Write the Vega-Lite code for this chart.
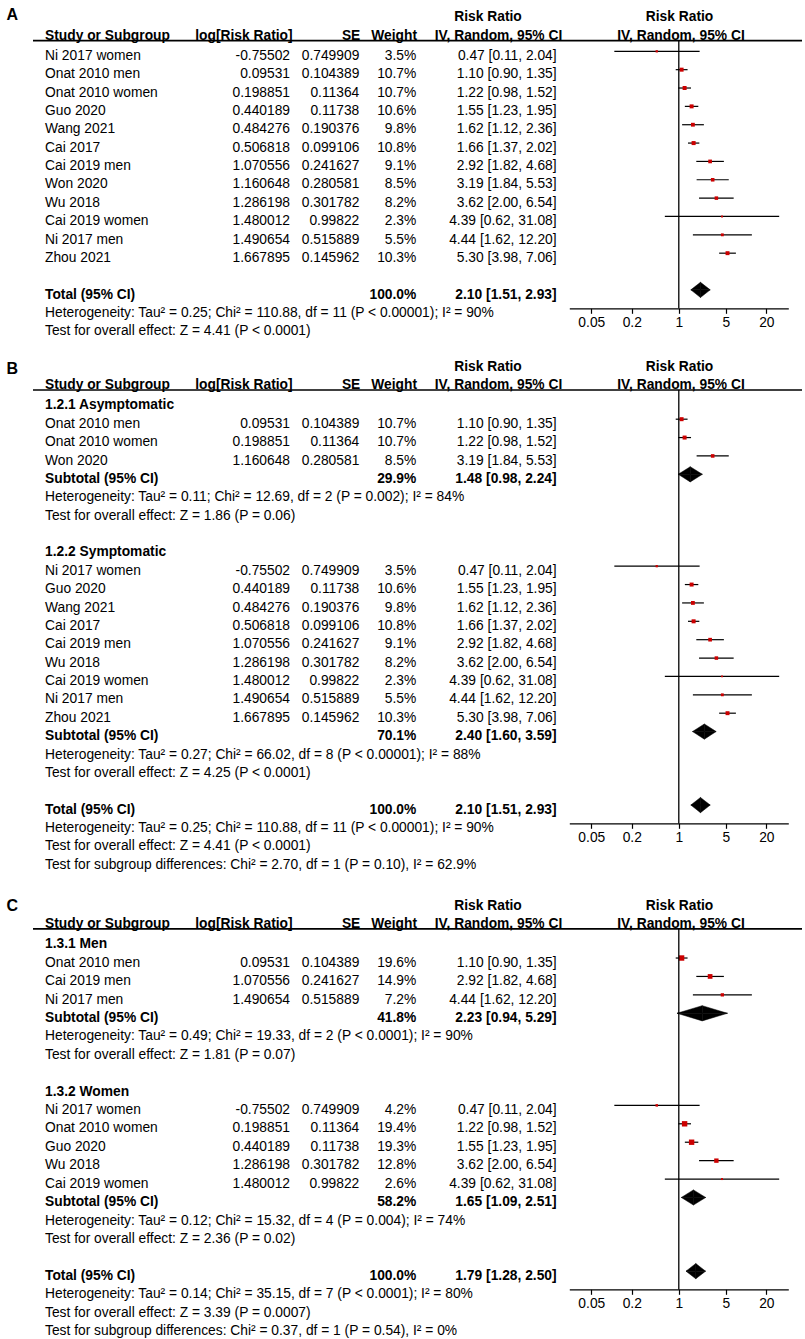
{
"$schema":"https://vega.github.io/schema/vega-lite/v6.json",
"width":805,"height":1339,"padding":0,"autosize":{"type":"none"},"background":"white",
"config":{
 "view":{"stroke":null},
 "text":{"baseline":"middle","font":"Liberation Sans","fontSize":13.8,"color":"black"},
 "axis":{"domainColor":"black","domainWidth":1.2,"tickColor":"black","tickWidth":1.2,"tickSize":5,"labelColor":"black","labelFont":"Liberation Sans","labelFontSize":13.8,"labelPadding":2,"grid":false,"labelFlush":false,"labelOverlap":false,"labelBound":false}
},
"datasets":{
"a":[
{"row":0,"kind":"study","label":"Ni 2017 women","logrr":-0.75502,"se":0.749909,"w":0.035,"rr":0.47,"lo":0.11,"hi":2.04,"ci":"0.47 [0.11, 2.04]"},
{"row":1,"kind":"study","label":"Onat 2010 men","logrr":0.09531,"se":0.104389,"w":0.107,"rr":1.1,"lo":0.9,"hi":1.35,"ci":"1.10 [0.90, 1.35]"},
{"row":2,"kind":"study","label":"Onat 2010 women","logrr":0.198851,"se":0.11364,"w":0.107,"rr":1.22,"lo":0.98,"hi":1.52,"ci":"1.22 [0.98, 1.52]"},
{"row":3,"kind":"study","label":"Guo 2020","logrr":0.440189,"se":0.11738,"w":0.106,"rr":1.55,"lo":1.23,"hi":1.95,"ci":"1.55 [1.23, 1.95]"},
{"row":4,"kind":"study","label":"Wang 2021","logrr":0.484276,"se":0.190376,"w":0.098,"rr":1.62,"lo":1.12,"hi":2.36,"ci":"1.62 [1.12, 2.36]"},
{"row":5,"kind":"study","label":"Cai 2017","logrr":0.506818,"se":0.099106,"w":0.108,"rr":1.66,"lo":1.37,"hi":2.02,"ci":"1.66 [1.37, 2.02]"},
{"row":6,"kind":"study","label":"Cai 2019 men","logrr":1.070556,"se":0.241627,"w":0.091,"rr":2.92,"lo":1.82,"hi":4.68,"ci":"2.92 [1.82, 4.68]"},
{"row":7,"kind":"study","label":"Won 2020","logrr":1.160648,"se":0.280581,"w":0.085,"rr":3.19,"lo":1.84,"hi":5.53,"ci":"3.19 [1.84, 5.53]"},
{"row":8,"kind":"study","label":"Wu 2018","logrr":1.286198,"se":0.301782,"w":0.082,"rr":3.62,"lo":2.0,"hi":6.54,"ci":"3.62 [2.00, 6.54]"},
{"row":9,"kind":"study","label":"Cai 2019 women","logrr":1.480012,"se":0.99822,"w":0.023,"rr":4.39,"lo":0.62,"hi":31.08,"ci":"4.39 [0.62, 31.08]"},
{"row":10,"kind":"study","label":"Ni 2017 men","logrr":1.490654,"se":0.515889,"w":0.055,"rr":4.44,"lo":1.62,"hi":12.2,"ci":"4.44 [1.62, 12.20]"},
{"row":11,"kind":"study","label":"Zhou 2021","logrr":1.667895,"se":0.145962,"w":0.103,"rr":5.3,"lo":3.98,"hi":7.06,"ci":"5.30 [3.98, 7.06]"},
{"row":13,"kind":"total","label":"Total (95% CI)","w":1,"rr":2.1,"lo":1.51,"hi":2.93,"ci":"2.10 [1.51, 2.93]"},
{"row":14,"kind":"note","label":"Heterogeneity: Tau² = 0.25; Chi² = 110.88, df = 11 (P < 0.00001); I² = 90%"},
{"row":15,"kind":"note","label":"Test for overall effect: Z = 4.41 (P < 0.0001)"}
],
"b":[
{"row":0,"kind":"group","label":"1.2.1 Asymptomatic"},
{"row":1,"kind":"study","label":"Onat 2010 men","logrr":0.09531,"se":0.104389,"w":0.107,"rr":1.1,"lo":0.9,"hi":1.35,"ci":"1.10 [0.90, 1.35]"},
{"row":2,"kind":"study","label":"Onat 2010 women","logrr":0.198851,"se":0.11364,"w":0.107,"rr":1.22,"lo":0.98,"hi":1.52,"ci":"1.22 [0.98, 1.52]"},
{"row":3,"kind":"study","label":"Won 2020","logrr":1.160648,"se":0.280581,"w":0.085,"rr":3.19,"lo":1.84,"hi":5.53,"ci":"3.19 [1.84, 5.53]"},
{"row":4,"kind":"subtotal","label":"Subtotal (95% CI)","w":0.299,"rr":1.48,"lo":0.98,"hi":2.24,"ci":"1.48 [0.98, 2.24]"},
{"row":5,"kind":"note","label":"Heterogeneity: Tau² = 0.11; Chi² = 12.69, df = 2 (P = 0.002); I² = 84%"},
{"row":6,"kind":"note","label":"Test for overall effect: Z = 1.86 (P = 0.06)"},
{"row":8,"kind":"group","label":"1.2.2 Symptomatic"},
{"row":9,"kind":"study","label":"Ni 2017 women","logrr":-0.75502,"se":0.749909,"w":0.035,"rr":0.47,"lo":0.11,"hi":2.04,"ci":"0.47 [0.11, 2.04]"},
{"row":10,"kind":"study","label":"Guo 2020","logrr":0.440189,"se":0.11738,"w":0.106,"rr":1.55,"lo":1.23,"hi":1.95,"ci":"1.55 [1.23, 1.95]"},
{"row":11,"kind":"study","label":"Wang 2021","logrr":0.484276,"se":0.190376,"w":0.098,"rr":1.62,"lo":1.12,"hi":2.36,"ci":"1.62 [1.12, 2.36]"},
{"row":12,"kind":"study","label":"Cai 2017","logrr":0.506818,"se":0.099106,"w":0.108,"rr":1.66,"lo":1.37,"hi":2.02,"ci":"1.66 [1.37, 2.02]"},
{"row":13,"kind":"study","label":"Cai 2019 men","logrr":1.070556,"se":0.241627,"w":0.091,"rr":2.92,"lo":1.82,"hi":4.68,"ci":"2.92 [1.82, 4.68]"},
{"row":14,"kind":"study","label":"Wu 2018","logrr":1.286198,"se":0.301782,"w":0.082,"rr":3.62,"lo":2.0,"hi":6.54,"ci":"3.62 [2.00, 6.54]"},
{"row":15,"kind":"study","label":"Cai 2019 women","logrr":1.480012,"se":0.99822,"w":0.023,"rr":4.39,"lo":0.62,"hi":31.08,"ci":"4.39 [0.62, 31.08]"},
{"row":16,"kind":"study","label":"Ni 2017 men","logrr":1.490654,"se":0.515889,"w":0.055,"rr":4.44,"lo":1.62,"hi":12.2,"ci":"4.44 [1.62, 12.20]"},
{"row":17,"kind":"study","label":"Zhou 2021","logrr":1.667895,"se":0.145962,"w":0.103,"rr":5.3,"lo":3.98,"hi":7.06,"ci":"5.30 [3.98, 7.06]"},
{"row":18,"kind":"subtotal","label":"Subtotal (95% CI)","w":0.701,"rr":2.4,"lo":1.6,"hi":3.59,"ci":"2.40 [1.60, 3.59]"},
{"row":19,"kind":"note","label":"Heterogeneity: Tau² = 0.27; Chi² = 66.02, df = 8 (P < 0.00001); I² = 88%"},
{"row":20,"kind":"note","label":"Test for overall effect: Z = 4.25 (P < 0.0001)"},
{"row":22,"kind":"total","label":"Total (95% CI)","w":1,"rr":2.1,"lo":1.51,"hi":2.93,"ci":"2.10 [1.51, 2.93]"},
{"row":23,"kind":"note","label":"Heterogeneity: Tau² = 0.25; Chi² = 110.88, df = 11 (P < 0.00001); I² = 90%"},
{"row":24,"kind":"note","label":"Test for overall effect: Z = 4.41 (P < 0.0001)"},
{"row":25,"kind":"note","label":"Test for subgroup differences: Chi² = 2.70, df = 1 (P = 0.10), I² = 62.9%"}
],
"c":[
{"row":0,"kind":"group","label":"1.3.1 Men"},
{"row":1,"kind":"study","label":"Onat 2010 men","logrr":0.09531,"se":0.104389,"w":0.196,"rr":1.1,"lo":0.9,"hi":1.35,"ci":"1.10 [0.90, 1.35]"},
{"row":2,"kind":"study","label":"Cai 2019 men","logrr":1.070556,"se":0.241627,"w":0.149,"rr":2.92,"lo":1.82,"hi":4.68,"ci":"2.92 [1.82, 4.68]"},
{"row":3,"kind":"study","label":"Ni 2017 men","logrr":1.490654,"se":0.515889,"w":0.072,"rr":4.44,"lo":1.62,"hi":12.2,"ci":"4.44 [1.62, 12.20]"},
{"row":4,"kind":"subtotal","label":"Subtotal (95% CI)","w":0.418,"rr":2.23,"lo":0.94,"hi":5.29,"ci":"2.23 [0.94, 5.29]"},
{"row":5,"kind":"note","label":"Heterogeneity: Tau² = 0.49; Chi² = 19.33, df = 2 (P < 0.0001); I² = 90%"},
{"row":6,"kind":"note","label":"Test for overall effect: Z = 1.81 (P = 0.07)"},
{"row":8,"kind":"group","label":"1.3.2 Women"},
{"row":9,"kind":"study","label":"Ni 2017 women","logrr":-0.75502,"se":0.749909,"w":0.042,"rr":0.47,"lo":0.11,"hi":2.04,"ci":"0.47 [0.11, 2.04]"},
{"row":10,"kind":"study","label":"Onat 2010 women","logrr":0.198851,"se":0.11364,"w":0.194,"rr":1.22,"lo":0.98,"hi":1.52,"ci":"1.22 [0.98, 1.52]"},
{"row":11,"kind":"study","label":"Guo 2020","logrr":0.440189,"se":0.11738,"w":0.193,"rr":1.55,"lo":1.23,"hi":1.95,"ci":"1.55 [1.23, 1.95]"},
{"row":12,"kind":"study","label":"Wu 2018","logrr":1.286198,"se":0.301782,"w":0.128,"rr":3.62,"lo":2.0,"hi":6.54,"ci":"3.62 [2.00, 6.54]"},
{"row":13,"kind":"study","label":"Cai 2019 women","logrr":1.480012,"se":0.99822,"w":0.026,"rr":4.39,"lo":0.62,"hi":31.08,"ci":"4.39 [0.62, 31.08]"},
{"row":14,"kind":"subtotal","label":"Subtotal (95% CI)","w":0.582,"rr":1.65,"lo":1.09,"hi":2.51,"ci":"1.65 [1.09, 2.51]"},
{"row":15,"kind":"note","label":"Heterogeneity: Tau² = 0.12; Chi² = 15.32, df = 4 (P = 0.004); I² = 74%"},
{"row":16,"kind":"note","label":"Test for overall effect: Z = 2.36 (P = 0.02)"},
{"row":18,"kind":"total","label":"Total (95% CI)","w":1,"rr":1.79,"lo":1.28,"hi":2.5,"ci":"1.79 [1.28, 2.50]"},
{"row":19,"kind":"note","label":"Heterogeneity: Tau² = 0.14; Chi² = 35.15, df = 7 (P < 0.0001); I² = 80%"},
{"row":20,"kind":"note","label":"Test for overall effect: Z = 3.39 (P = 0.0007)"},
{"row":21,"kind":"note","label":"Test for subgroup differences: Chi² = 0.37, df = 1 (P = 0.54), I² = 0%"}
]
},
"layer":[
{"data":{"name":"a"},
 "layer":[
  {"layer":[
   {"transform":[{"filter":{"field":"kind","oneOf":["study","note"]}}],"mark":{"type":"text","align":"left"},
    "encoding":{"x":{"datum":45,"type":"quantitative","scale":{"domain":[0,805],"nice":false,"zero":false},"axis":null},"y":{"field":"row","type":"quantitative","scale":{"domain":[-3.0518,69.918],"reverse":true,"nice":false,"zero":false},"axis":null},"text":{"field":"label","type":"nominal"}}},
   {"transform":[{"filter":{"field":"kind","oneOf":["group","subtotal","total"]}}],"mark":{"type":"text","align":"left","fontWeight":"bold"},
    "encoding":{"x":{"datum":45,"type":"quantitative","axis":null},"y":{"field":"row","type":"quantitative","axis":null},"text":{"field":"label","type":"nominal"}}},
   {"transform":[{"filter":{"field":"kind","equal":"study"}}],"mark":{"type":"text","align":"right"},
    "encoding":{"x":{"datum":290,"type":"quantitative","axis":null},"y":{"field":"row","type":"quantitative","axis":null},"text":{"field":"logrr","type":"nominal"}}},
   {"transform":[{"filter":{"field":"kind","equal":"study"}}],"mark":{"type":"text","align":"right"},
    "encoding":{"x":{"datum":359.3,"type":"quantitative","axis":null},"y":{"field":"row","type":"quantitative","axis":null},"text":{"field":"se","type":"nominal"}}},
   {"transform":[{"filter":{"field":"kind","equal":"study"}}],"mark":{"type":"text","align":"right"},
    "encoding":{"x":{"datum":416.3,"type":"quantitative","axis":null},"y":{"field":"row","type":"quantitative","axis":null},"text":{"field":"w","type":"quantitative","format":".1%"}}},
   {"transform":[{"filter":{"field":"kind","oneOf":["subtotal","total"]}}],"mark":{"type":"text","align":"right","fontWeight":"bold"},
    "encoding":{"x":{"datum":416.3,"type":"quantitative","axis":null},"y":{"field":"row","type":"quantitative","axis":null},"text":{"field":"w","type":"quantitative","format":".1%"}}},
   {"transform":[{"filter":{"field":"kind","equal":"study"}}],"mark":{"type":"text","align":"right"},
    "encoding":{"x":{"datum":556.6,"type":"quantitative","axis":null},"y":{"field":"row","type":"quantitative","axis":null},"text":{"field":"ci","type":"nominal"}}},
   {"transform":[{"filter":{"field":"kind","oneOf":["subtotal","total"]}}],"mark":{"type":"text","align":"right","fontWeight":"bold"},
    "encoding":{"x":{"datum":556.6,"type":"quantitative","axis":null},"y":{"field":"row","type":"quantitative","axis":null},"text":{"field":"ci","type":"nominal"}}},
   {"data":{"values":[{}]},"mark":{"type":"text","align":"left","fontWeight":"bold","fontSize":16},"encoding":{"x":{"datum":6.5,"type":"quantitative","axis":null},"y":{"datum":-2.21,"type":"quantitative","axis":null},"text":{"value":"A"}}},
   {"data":{"values":[{}]},"mark":{"type":"text","align":"center","fontWeight":"bold"},"encoding":{"x":{"datum":488,"type":"quantitative","axis":null},"y":{"datum":-2.1,"type":"quantitative","axis":null},"text":{"value":"Risk Ratio"}}},
   {"data":{"values":[{}]},"mark":{"type":"text","align":"center","fontWeight":"bold"},"encoding":{"x":{"datum":679.5,"type":"quantitative","axis":null},"y":{"datum":-2.1,"type":"quantitative","axis":null},"text":{"value":"Risk Ratio"}}},
   {"data":{"values":[{}]},"mark":{"type":"text","align":"left","fontWeight":"bold"},"encoding":{"x":{"datum":45,"type":"quantitative","axis":null},"y":{"datum":-1.11,"type":"quantitative","axis":null},"text":{"value":"Study or Subgroup"}}},
   {"data":{"values":[{}]},"mark":{"type":"text","align":"right","fontWeight":"bold"},"encoding":{"x":{"datum":292.6,"type":"quantitative","axis":null},"y":{"datum":-1.11,"type":"quantitative","axis":null},"text":{"value":"log[Risk Ratio]"}}},
   {"data":{"values":[{}]},"mark":{"type":"text","align":"right","fontWeight":"bold"},"encoding":{"x":{"datum":360.3,"type":"quantitative","axis":null},"y":{"datum":-1.11,"type":"quantitative","axis":null},"text":{"value":"SE"}}},
   {"data":{"values":[{}]},"mark":{"type":"text","align":"right","fontWeight":"bold"},"encoding":{"x":{"datum":417,"type":"quantitative","axis":null},"y":{"datum":-1.11,"type":"quantitative","axis":null},"text":{"value":"Weight"}}},
   {"data":{"values":[{}]},"mark":{"type":"text","align":"center","fontWeight":"bold"},"encoding":{"x":{"datum":498.5,"type":"quantitative","axis":null},"y":{"datum":-1.11,"type":"quantitative","axis":null},"text":{"value":"IV, Random, 95% CI"}}},
   {"data":{"values":[{}]},"mark":{"type":"text","align":"center","fontWeight":"bold"},"encoding":{"x":{"datum":681,"type":"quantitative","axis":null},"y":{"datum":-1.11,"type":"quantitative","axis":null},"text":{"value":"IV, Random, 95% CI"}}},
   {"data":{"values":[{}]},"mark":{"type":"rule","color":"black","strokeWidth":1.6},"encoding":{"x":{"datum":33,"type":"quantitative","axis":null},"x2":{"datum":802},"y":{"datum":-0.84,"type":"quantitative","axis":null}}}
  ]},
  {"layer":[
   {"layer":[
    {"transform":[{"filter":{"field":"kind","equal":"study"}}],"mark":{"type":"rule","color":"black","strokeWidth":1.2},
     "encoding":{"x":{"field":"lo","type":"quantitative","scale":{"type":"log","domain":[0.02355,42.46],"range":[569.3,788.3],"nice":false},"axis":{"orient":"bottom","offset":-1030.7,"values":[0.05,0.2,1,5,20],"format":"~g","title":null}},"x2":{"field":"hi"},"y":{"field":"row","type":"quantitative","scale":{"domain":[-2.7968,70.173],"reverse":true,"nice":false,"zero":false},"axis":null}}},
    {"transform":[{"filter":{"field":"kind","equal":"study"}}],"mark":{"type":"square","color":"#cc0000","opacity":1},
     "encoding":{"x":{"field":"rr","type":"quantitative"},"y":{"field":"row","type":"quantitative"},"size":{"field":"w","type":"quantitative","scale":{"domain":[0,0.2],"range":[0,30]},"legend":null}}},
    {"data":{"values":[{}]},"mark":{"type":"rule","color":"black","strokeWidth":1.3},"encoding":{"x":{"datum":1,"type":"quantitative"},"y":{"datum":-0.585,"type":"quantitative"},"y2":{"datum":14}}}
   ]},
   {"layer":[
    {"transform":[{"filter":{"field":"kind","oneOf":["subtotal","total"]}},{"fold":["lo","rr"],"as":["vertex","xv"]}],"mark":{"type":"area","orient":"horizontal","color":"black","stroke":"black","strokeWidth":0.5},
     "encoding":{"x":{"field":"xv","type":"quantitative","stack":null},"x2":{"field":"rr"},"y":{"field":"row","type":"ordinal","scale":{"type":"point","domain":[-2,-1,0,1,2,3,4,5,6,7,8,9,10,11,12,13,14,15,16,17,18,19,20,21,22,23,24,25,26,27,28,29,30,31,32,33,34,35,36,37,38,39,40,41,42,43,44,45,46,47,48,49,50,51,52,53,54,55,56,57,58,59,60,61,62,63,64,65,66,67,68,69],"padding":0.9849,"align":0.40446},"axis":null},"yOffset":{"field":"vertex","type":"nominal","scale":{"type":"point","domain":["lo","rr"],"range":[0,-7.6],"padding":0}},"detail":{"field":"row","type":"nominal"}}},
    {"transform":[{"filter":{"field":"kind","oneOf":["subtotal","total"]}},{"fold":["hi","rr"],"as":["vertex","xv"]}],"mark":{"type":"area","orient":"horizontal","color":"black","stroke":"black","strokeWidth":0.5},
     "encoding":{"x":{"field":"rr","type":"quantitative","stack":null},"x2":{"field":"xv"},"y":{"field":"row","type":"ordinal","axis":null},"yOffset":{"field":"vertex","type":"nominal","scale":{"type":"point","domain":["hi","rr"],"range":[0,-7.6],"padding":0}},"detail":{"field":"row","type":"nominal"}}},
    {"transform":[{"filter":{"field":"kind","oneOf":["subtotal","total"]}},{"fold":["lo","rr"],"as":["vertex","xv"]}],"mark":{"type":"area","orient":"horizontal","color":"black","stroke":"black","strokeWidth":0.5},
     "encoding":{"x":{"field":"xv","type":"quantitative","stack":null},"x2":{"field":"rr"},"y":{"field":"row","type":"ordinal","axis":null},"yOffset":{"field":"vertex","type":"nominal","scale":{"type":"point","domain":["lo","rr"],"range":[0,7.6],"padding":0}},"detail":{"field":"row","type":"nominal"}}},
    {"transform":[{"filter":{"field":"kind","oneOf":["subtotal","total"]}},{"fold":["hi","rr"],"as":["vertex","xv"]}],"mark":{"type":"area","orient":"horizontal","color":"black","stroke":"black","strokeWidth":0.5},
     "encoding":{"x":{"field":"rr","type":"quantitative","stack":null},"x2":{"field":"xv"},"y":{"field":"row","type":"ordinal","axis":null},"yOffset":{"field":"vertex","type":"nominal","scale":{"type":"point","domain":["hi","rr"],"range":[0,7.6],"padding":0}},"detail":{"field":"row","type":"nominal"}}}
   ],"resolve":{"scale":{"yOffset":"independent"}}}
  ],
  "resolve":{"scale":{"y":"independent"}}}
 ],
 "resolve":{"scale":{"x":"independent","y":"independent"}}
},
{"data":{"name":"b"},
 "layer":[
  {"layer":[
   {"transform":[{"filter":{"field":"kind","oneOf":["study","note"]}}],"mark":{"type":"text","align":"left"},
    "encoding":{"x":{"datum":45,"type":"quantitative","scale":{"domain":[0,805],"nice":false,"zero":false},"axis":null},"y":{"field":"row","type":"quantitative","scale":{"domain":[-22.068,50.803],"reverse":true,"nice":false,"zero":false},"axis":null},"text":{"field":"label","type":"nominal"}}},
   {"transform":[{"filter":{"field":"kind","oneOf":["group","subtotal","total"]}}],"mark":{"type":"text","align":"left","fontWeight":"bold"},
    "encoding":{"x":{"datum":45,"type":"quantitative","axis":null},"y":{"field":"row","type":"quantitative","axis":null},"text":{"field":"label","type":"nominal"}}},
   {"transform":[{"filter":{"field":"kind","equal":"study"}}],"mark":{"type":"text","align":"right"},
    "encoding":{"x":{"datum":290,"type":"quantitative","axis":null},"y":{"field":"row","type":"quantitative","axis":null},"text":{"field":"logrr","type":"nominal"}}},
   {"transform":[{"filter":{"field":"kind","equal":"study"}}],"mark":{"type":"text","align":"right"},
    "encoding":{"x":{"datum":359.3,"type":"quantitative","axis":null},"y":{"field":"row","type":"quantitative","axis":null},"text":{"field":"se","type":"nominal"}}},
   {"transform":[{"filter":{"field":"kind","equal":"study"}}],"mark":{"type":"text","align":"right"},
    "encoding":{"x":{"datum":416.3,"type":"quantitative","axis":null},"y":{"field":"row","type":"quantitative","axis":null},"text":{"field":"w","type":"quantitative","format":".1%"}}},
   {"transform":[{"filter":{"field":"kind","oneOf":["subtotal","total"]}}],"mark":{"type":"text","align":"right","fontWeight":"bold"},
    "encoding":{"x":{"datum":416.3,"type":"quantitative","axis":null},"y":{"field":"row","type":"quantitative","axis":null},"text":{"field":"w","type":"quantitative","format":".1%"}}},
   {"transform":[{"filter":{"field":"kind","equal":"study"}}],"mark":{"type":"text","align":"right"},
    "encoding":{"x":{"datum":556.6,"type":"quantitative","axis":null},"y":{"field":"row","type":"quantitative","axis":null},"text":{"field":"ci","type":"nominal"}}},
   {"transform":[{"filter":{"field":"kind","oneOf":["subtotal","total"]}}],"mark":{"type":"text","align":"right","fontWeight":"bold"},
    "encoding":{"x":{"datum":556.6,"type":"quantitative","axis":null},"y":{"field":"row","type":"quantitative","axis":null},"text":{"field":"ci","type":"nominal"}}},
   {"data":{"values":[{}]},"mark":{"type":"text","align":"left","fontWeight":"bold","fontSize":16},"encoding":{"x":{"datum":6.5,"type":"quantitative","axis":null},"y":{"datum":-1.96,"type":"quantitative","axis":null},"text":{"value":"B"}}},
   {"data":{"values":[{}]},"mark":{"type":"text","align":"center","fontWeight":"bold"},"encoding":{"x":{"datum":488,"type":"quantitative","axis":null},"y":{"datum":-2.1,"type":"quantitative","axis":null},"text":{"value":"Risk Ratio"}}},
   {"data":{"values":[{}]},"mark":{"type":"text","align":"center","fontWeight":"bold"},"encoding":{"x":{"datum":679.5,"type":"quantitative","axis":null},"y":{"datum":-2.1,"type":"quantitative","axis":null},"text":{"value":"Risk Ratio"}}},
   {"data":{"values":[{}]},"mark":{"type":"text","align":"left","fontWeight":"bold"},"encoding":{"x":{"datum":45,"type":"quantitative","axis":null},"y":{"datum":-1.11,"type":"quantitative","axis":null},"text":{"value":"Study or Subgroup"}}},
   {"data":{"values":[{}]},"mark":{"type":"text","align":"right","fontWeight":"bold"},"encoding":{"x":{"datum":292.6,"type":"quantitative","axis":null},"y":{"datum":-1.11,"type":"quantitative","axis":null},"text":{"value":"log[Risk Ratio]"}}},
   {"data":{"values":[{}]},"mark":{"type":"text","align":"right","fontWeight":"bold"},"encoding":{"x":{"datum":360.3,"type":"quantitative","axis":null},"y":{"datum":-1.11,"type":"quantitative","axis":null},"text":{"value":"SE"}}},
   {"data":{"values":[{}]},"mark":{"type":"text","align":"right","fontWeight":"bold"},"encoding":{"x":{"datum":417,"type":"quantitative","axis":null},"y":{"datum":-1.11,"type":"quantitative","axis":null},"text":{"value":"Weight"}}},
   {"data":{"values":[{}]},"mark":{"type":"text","align":"center","fontWeight":"bold"},"encoding":{"x":{"datum":498.5,"type":"quantitative","axis":null},"y":{"datum":-1.11,"type":"quantitative","axis":null},"text":{"value":"IV, Random, 95% CI"}}},
   {"data":{"values":[{}]},"mark":{"type":"text","align":"center","fontWeight":"bold"},"encoding":{"x":{"datum":681,"type":"quantitative","axis":null},"y":{"datum":-1.11,"type":"quantitative","axis":null},"text":{"value":"IV, Random, 95% CI"}}},
   {"data":{"values":[{}]},"mark":{"type":"rule","color":"black","strokeWidth":1.6},"encoding":{"x":{"datum":33,"type":"quantitative","axis":null},"x2":{"datum":802},"y":{"datum":-0.84,"type":"quantitative","axis":null}}}
  ]},
  {"layer":[
   {"layer":[
    {"transform":[{"filter":{"field":"kind","equal":"study"}}],"mark":{"type":"rule","color":"black","strokeWidth":1.2},
     "encoding":{"x":{"field":"lo","type":"quantitative","scale":{"type":"log","domain":[0.02355,42.46],"range":[569.3,788.3],"nice":false},"axis":{"orient":"bottom","offset":-515.7,"values":[0.05,0.2,1,5,20],"format":"~g","title":null}},"x2":{"field":"hi"},"y":{"field":"row","type":"quantitative","scale":{"domain":[-21.813,51.058],"reverse":true,"nice":false,"zero":false},"axis":null}}},
    {"transform":[{"filter":{"field":"kind","equal":"study"}}],"mark":{"type":"square","color":"#cc0000","opacity":1},
     "encoding":{"x":{"field":"rr","type":"quantitative"},"y":{"field":"row","type":"quantitative"},"size":{"field":"w","type":"quantitative","scale":{"domain":[0,0.2],"range":[0,30]},"legend":null}}},
    {"data":{"values":[{}]},"mark":{"type":"rule","color":"black","strokeWidth":1.3},"encoding":{"x":{"datum":1,"type":"quantitative"},"y":{"datum":-0.585,"type":"quantitative"},"y2":{"datum":23}}}
   ]},
   {"layer":[
    {"transform":[{"filter":{"field":"kind","oneOf":["subtotal","total"]}},{"fold":["lo","rr"],"as":["vertex","xv"]}],"mark":{"type":"area","orient":"horizontal","color":"black","stroke":"black","strokeWidth":0.5},
     "encoding":{"x":{"field":"xv","type":"quantitative","stack":null},"x2":{"field":"rr"},"y":{"field":"row","type":"ordinal","scale":{"type":"point","domain":[-21,-20,-19,-18,-17,-16,-15,-14,-13,-12,-11,-10,-9,-8,-7,-6,-5,-4,-3,-2,-1,0,1,2,3,4,5,6,7,8,9,10,11,12,13,14,15,16,17,18,19,20,21,22,23,24,25,26,27,28,29,30,31,32,33,34,35,36,37,38,39,40,41,42,43,44,45,46,47,48,49,50],"padding":0.9355,"align":0.43453},"axis":null},"yOffset":{"field":"vertex","type":"nominal","scale":{"type":"point","domain":["lo","rr"],"range":[0,-7.6],"padding":0}},"detail":{"field":"row","type":"nominal"}}},
    {"transform":[{"filter":{"field":"kind","oneOf":["subtotal","total"]}},{"fold":["hi","rr"],"as":["vertex","xv"]}],"mark":{"type":"area","orient":"horizontal","color":"black","stroke":"black","strokeWidth":0.5},
     "encoding":{"x":{"field":"rr","type":"quantitative","stack":null},"x2":{"field":"xv"},"y":{"field":"row","type":"ordinal","axis":null},"yOffset":{"field":"vertex","type":"nominal","scale":{"type":"point","domain":["hi","rr"],"range":[0,-7.6],"padding":0}},"detail":{"field":"row","type":"nominal"}}},
    {"transform":[{"filter":{"field":"kind","oneOf":["subtotal","total"]}},{"fold":["lo","rr"],"as":["vertex","xv"]}],"mark":{"type":"area","orient":"horizontal","color":"black","stroke":"black","strokeWidth":0.5},
     "encoding":{"x":{"field":"xv","type":"quantitative","stack":null},"x2":{"field":"rr"},"y":{"field":"row","type":"ordinal","axis":null},"yOffset":{"field":"vertex","type":"nominal","scale":{"type":"point","domain":["lo","rr"],"range":[0,7.6],"padding":0}},"detail":{"field":"row","type":"nominal"}}},
    {"transform":[{"filter":{"field":"kind","oneOf":["subtotal","total"]}},{"fold":["hi","rr"],"as":["vertex","xv"]}],"mark":{"type":"area","orient":"horizontal","color":"black","stroke":"black","strokeWidth":0.5},
     "encoding":{"x":{"field":"rr","type":"quantitative","stack":null},"x2":{"field":"xv"},"y":{"field":"row","type":"ordinal","axis":null},"yOffset":{"field":"vertex","type":"nominal","scale":{"type":"point","domain":["hi","rr"],"range":[0,7.6],"padding":0}},"detail":{"field":"row","type":"nominal"}}}
   ],"resolve":{"scale":{"yOffset":"independent"}}}
  ],
  "resolve":{"scale":{"y":"independent"}}}
 ],
 "resolve":{"scale":{"x":"independent","y":"independent"}}
},
{"data":{"name":"c"},
 "layer":[
  {"layer":[
   {"transform":[{"filter":{"field":"kind","oneOf":["study","note"]}}],"mark":{"type":"text","align":"left"},
    "encoding":{"x":{"datum":45,"type":"quantitative","scale":{"domain":[0,805],"nice":false,"zero":false},"axis":null},"y":{"field":"row","type":"quantitative","scale":{"domain":[-51.265,21.428],"reverse":true,"nice":false,"zero":false},"axis":null},"text":{"field":"label","type":"nominal"}}},
   {"transform":[{"filter":{"field":"kind","oneOf":["group","subtotal","total"]}}],"mark":{"type":"text","align":"left","fontWeight":"bold"},
    "encoding":{"x":{"datum":45,"type":"quantitative","axis":null},"y":{"field":"row","type":"quantitative","axis":null},"text":{"field":"label","type":"nominal"}}},
   {"transform":[{"filter":{"field":"kind","equal":"study"}}],"mark":{"type":"text","align":"right"},
    "encoding":{"x":{"datum":290,"type":"quantitative","axis":null},"y":{"field":"row","type":"quantitative","axis":null},"text":{"field":"logrr","type":"nominal"}}},
   {"transform":[{"filter":{"field":"kind","equal":"study"}}],"mark":{"type":"text","align":"right"},
    "encoding":{"x":{"datum":359.3,"type":"quantitative","axis":null},"y":{"field":"row","type":"quantitative","axis":null},"text":{"field":"se","type":"nominal"}}},
   {"transform":[{"filter":{"field":"kind","equal":"study"}}],"mark":{"type":"text","align":"right"},
    "encoding":{"x":{"datum":416.3,"type":"quantitative","axis":null},"y":{"field":"row","type":"quantitative","axis":null},"text":{"field":"w","type":"quantitative","format":".1%"}}},
   {"transform":[{"filter":{"field":"kind","oneOf":["subtotal","total"]}}],"mark":{"type":"text","align":"right","fontWeight":"bold"},
    "encoding":{"x":{"datum":416.3,"type":"quantitative","axis":null},"y":{"field":"row","type":"quantitative","axis":null},"text":{"field":"w","type":"quantitative","format":".1%"}}},
   {"transform":[{"filter":{"field":"kind","equal":"study"}}],"mark":{"type":"text","align":"right"},
    "encoding":{"x":{"datum":556.6,"type":"quantitative","axis":null},"y":{"field":"row","type":"quantitative","axis":null},"text":{"field":"ci","type":"nominal"}}},
   {"transform":[{"filter":{"field":"kind","oneOf":["subtotal","total"]}}],"mark":{"type":"text","align":"right","fontWeight":"bold"},
    "encoding":{"x":{"datum":556.6,"type":"quantitative","axis":null},"y":{"field":"row","type":"quantitative","axis":null},"text":{"field":"ci","type":"nominal"}}},
   {"data":{"values":[{}]},"mark":{"type":"text","align":"left","fontWeight":"bold","fontSize":16},"encoding":{"x":{"datum":6.5,"type":"quantitative","axis":null},"y":{"datum":-2.06,"type":"quantitative","axis":null},"text":{"value":"C"}}},
   {"data":{"values":[{}]},"mark":{"type":"text","align":"center","fontWeight":"bold"},"encoding":{"x":{"datum":488,"type":"quantitative","axis":null},"y":{"datum":-2.1,"type":"quantitative","axis":null},"text":{"value":"Risk Ratio"}}},
   {"data":{"values":[{}]},"mark":{"type":"text","align":"center","fontWeight":"bold"},"encoding":{"x":{"datum":679.5,"type":"quantitative","axis":null},"y":{"datum":-2.1,"type":"quantitative","axis":null},"text":{"value":"Risk Ratio"}}},
   {"data":{"values":[{}]},"mark":{"type":"text","align":"left","fontWeight":"bold"},"encoding":{"x":{"datum":45,"type":"quantitative","axis":null},"y":{"datum":-1.11,"type":"quantitative","axis":null},"text":{"value":"Study or Subgroup"}}},
   {"data":{"values":[{}]},"mark":{"type":"text","align":"right","fontWeight":"bold"},"encoding":{"x":{"datum":292.6,"type":"quantitative","axis":null},"y":{"datum":-1.11,"type":"quantitative","axis":null},"text":{"value":"log[Risk Ratio]"}}},
   {"data":{"values":[{}]},"mark":{"type":"text","align":"right","fontWeight":"bold"},"encoding":{"x":{"datum":360.3,"type":"quantitative","axis":null},"y":{"datum":-1.11,"type":"quantitative","axis":null},"text":{"value":"SE"}}},
   {"data":{"values":[{}]},"mark":{"type":"text","align":"right","fontWeight":"bold"},"encoding":{"x":{"datum":417,"type":"quantitative","axis":null},"y":{"datum":-1.11,"type":"quantitative","axis":null},"text":{"value":"Weight"}}},
   {"data":{"values":[{}]},"mark":{"type":"text","align":"center","fontWeight":"bold"},"encoding":{"x":{"datum":498.5,"type":"quantitative","axis":null},"y":{"datum":-1.11,"type":"quantitative","axis":null},"text":{"value":"IV, Random, 95% CI"}}},
   {"data":{"values":[{}]},"mark":{"type":"text","align":"center","fontWeight":"bold"},"encoding":{"x":{"datum":681,"type":"quantitative","axis":null},"y":{"datum":-1.11,"type":"quantitative","axis":null},"text":{"value":"IV, Random, 95% CI"}}},
   {"data":{"values":[{}]},"mark":{"type":"rule","color":"black","strokeWidth":1.6},"encoding":{"x":{"datum":33,"type":"quantitative","axis":null},"x2":{"datum":802},"y":{"datum":-0.84,"type":"quantitative","axis":null}}}
  ]},
  {"layer":[
   {"layer":[
    {"transform":[{"filter":{"field":"kind","equal":"study"}}],"mark":{"type":"rule","color":"black","strokeWidth":1.2},
     "encoding":{"x":{"field":"lo","type":"quantitative","scale":{"type":"log","domain":[0.02355,42.46],"range":[569.3,788.3],"nice":false},"axis":{"orient":"bottom","offset":-49.7,"values":[0.05,0.2,1,5,20],"format":"~g","title":null}},"x2":{"field":"hi"},"y":{"field":"row","type":"quantitative","scale":{"domain":[-51.01,21.683],"reverse":true,"nice":false,"zero":false},"axis":null}}},
    {"transform":[{"filter":{"field":"kind","equal":"study"}}],"mark":{"type":"square","color":"#cc0000","opacity":1},
     "encoding":{"x":{"field":"rr","type":"quantitative"},"y":{"field":"row","type":"quantitative"},"size":{"field":"w","type":"quantitative","scale":{"domain":[0,0.2],"range":[0,30]},"legend":null}}},
    {"data":{"values":[{}]},"mark":{"type":"rule","color":"black","strokeWidth":1.3},"encoding":{"x":{"datum":1,"type":"quantitative"},"y":{"datum":-0.585,"type":"quantitative"},"y2":{"datum":19}}}
   ]},
   {"layer":[
    {"transform":[{"filter":{"field":"kind","oneOf":["subtotal","total"]}},{"fold":["lo","rr"],"as":["vertex","xv"]}],"mark":{"type":"area","orient":"horizontal","color":"black","stroke":"black","strokeWidth":0.5},
     "encoding":{"x":{"field":"xv","type":"quantitative","stack":null},"x2":{"field":"rr"},"y":{"field":"row","type":"ordinal","scale":{"type":"point","domain":[-51,-50,-49,-48,-47,-46,-45,-44,-43,-42,-41,-40,-39,-38,-37,-36,-35,-34,-33,-32,-31,-30,-29,-28,-27,-26,-25,-24,-23,-22,-21,-20,-19,-18,-17,-16,-15,-14,-13,-12,-11,-10,-9,-8,-7,-6,-5,-4,-3,-2,-1,0,1,2,3,4,5,6,7,8,9,10,11,12,13,14,15,16,17,18,19,20],"padding":0.8465,"align":0.0059},"axis":null},"yOffset":{"field":"vertex","type":"nominal","scale":{"type":"point","domain":["lo","rr"],"range":[0,-7.6],"padding":0}},"detail":{"field":"row","type":"nominal"}}},
    {"transform":[{"filter":{"field":"kind","oneOf":["subtotal","total"]}},{"fold":["hi","rr"],"as":["vertex","xv"]}],"mark":{"type":"area","orient":"horizontal","color":"black","stroke":"black","strokeWidth":0.5},
     "encoding":{"x":{"field":"rr","type":"quantitative","stack":null},"x2":{"field":"xv"},"y":{"field":"row","type":"ordinal","axis":null},"yOffset":{"field":"vertex","type":"nominal","scale":{"type":"point","domain":["hi","rr"],"range":[0,-7.6],"padding":0}},"detail":{"field":"row","type":"nominal"}}},
    {"transform":[{"filter":{"field":"kind","oneOf":["subtotal","total"]}},{"fold":["lo","rr"],"as":["vertex","xv"]}],"mark":{"type":"area","orient":"horizontal","color":"black","stroke":"black","strokeWidth":0.5},
     "encoding":{"x":{"field":"xv","type":"quantitative","stack":null},"x2":{"field":"rr"},"y":{"field":"row","type":"ordinal","axis":null},"yOffset":{"field":"vertex","type":"nominal","scale":{"type":"point","domain":["lo","rr"],"range":[0,7.6],"padding":0}},"detail":{"field":"row","type":"nominal"}}},
    {"transform":[{"filter":{"field":"kind","oneOf":["subtotal","total"]}},{"fold":["hi","rr"],"as":["vertex","xv"]}],"mark":{"type":"area","orient":"horizontal","color":"black","stroke":"black","strokeWidth":0.5},
     "encoding":{"x":{"field":"rr","type":"quantitative","stack":null},"x2":{"field":"xv"},"y":{"field":"row","type":"ordinal","axis":null},"yOffset":{"field":"vertex","type":"nominal","scale":{"type":"point","domain":["hi","rr"],"range":[0,7.6],"padding":0}},"detail":{"field":"row","type":"nominal"}}}
   ],"resolve":{"scale":{"yOffset":"independent"}}}
  ],
  "resolve":{"scale":{"y":"independent"}}}
 ],
 "resolve":{"scale":{"x":"independent","y":"independent"}}
}
],
"resolve":{"scale":{"x":"independent","y":"independent"}}
}
